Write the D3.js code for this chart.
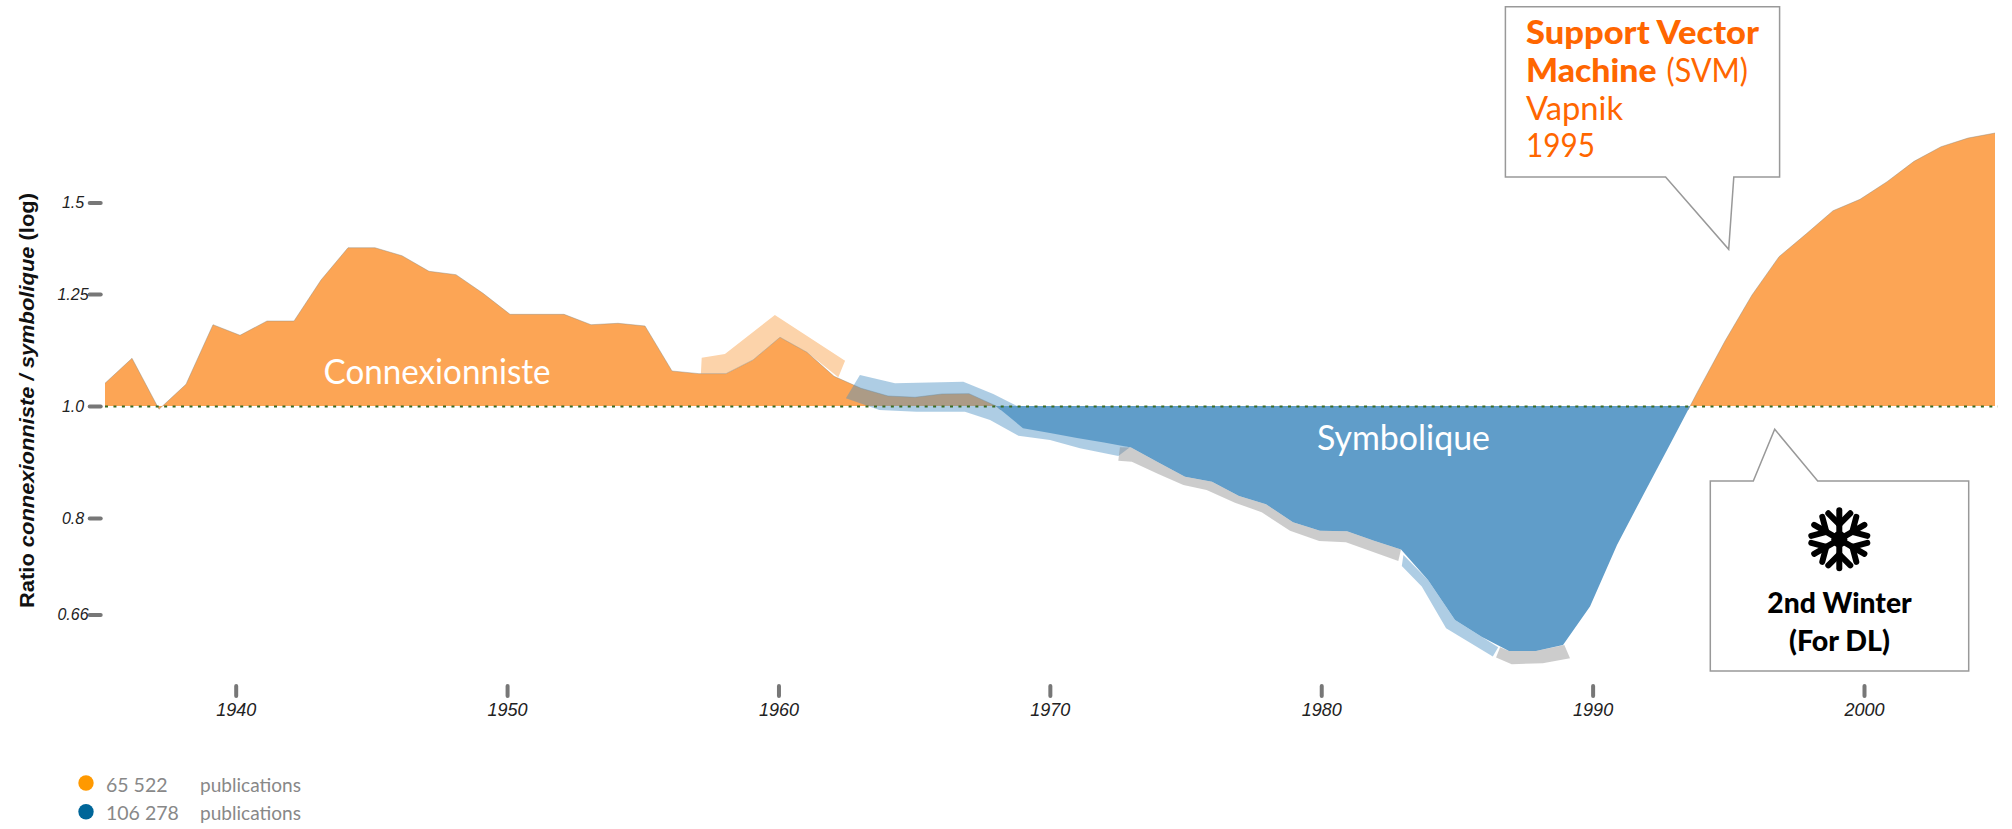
<!DOCTYPE html>
<html>
  <head>
    <title>Ratio connexionniste / symbolique</title>
    <meta charset="utf-8" />
    <script src="https://cdnjs.cloudflare.com/ajax/libs/d3/7.6.1/d3.min.js"></script>
    <style>
      body { margin: 0; background: #fff; }
      svg { display: block; }
      .axis path { display: none; }
      .axis line { stroke: #777; stroke-width: 4px; stroke-linecap: round; }
      .axis text { font-family: "Liberation Sans", sans-serif; font-style: italic; fill: #222; }
      .label { font-family: Lato, "Noto Sans", sans-serif; }
      .callout { fill: #fff; stroke: #999; stroke-width: 1.5px; }
    </style>
  </head>
  <body>
    <svg width="2012" height="829"></svg>
  </body>

  <script>
    // ratio per year, 1935..2005
    const years = d3.range(1935, 2006);
    const ratio = [
      1.0463, 1.0997, 0.9935, 1.0442, 1.1758, 1.1512, 1.1845, 1.1845, 1.2853, 1.3707,
      1.3707, 1.349, 1.3078, 1.299, 1.2517, 1.2004, 1.2004, 1.2004, 1.1758, 1.1791,
      1.1728, 1.0722, 1.0665, 1.0665, 1.096, 1.1467, 1.1129, 1.0609, 1.0359, 1.0201,
      1.0175, 1.0242, 1.0248, 1.0, 0.9566, 0.9476, 0.9382, 0.9299, 0.9207, 0.8939,
      0.8686, 0.86, 0.8359, 0.8222, 0.7932, 0.78, 0.7791, 0.7646, 0.7514, 0.7071,
      0.6529, 0.6312, 0.6138, 0.6138, 0.6212, 0.6705, 0.7581, 0.84, 0.9297, 1.0303,
      1.1382, 1.2475, 1.3464, 1.4086, 1.4755, 1.5095, 1.5633, 1.6282, 1.6762, 1.7055,
      1.7226,
    ];

    // highlight bands, outlines as year / ratio
    const orangeBandYears = [1957.1, 1957.96, 1959.81, 1962.41, 1962.16, 1961, 1960, 1959, 1958, 1957.07];
    const orangeBandRatio = [1.101, 1.1091, 1.1987, 1.0944, 1.0588, 1.1129, 1.1467, 1.096, 1.0665, 1.0665];

    const blueBandYears = [1962.96, 1964.26, 1966.79, 1967.9, 1968.83, 1970, 1972.96, 1972.53, 1971.11, 1970, 1968.83, 1967.78, 1966.85, 1965.06, 1963.68, 1962.44];
    const blueBandRatio = [1.0637, 1.0463, 1.0496, 1.0242, 0.9986, 0.9629, 0.921, 0.9052, 0.9192, 0.9345, 0.9426, 0.9725, 0.9887, 0.9887, 0.9921, 1.0155];

    const grayBandYears = [1972.59, 1973, 1974, 1975, 1976, 1977, 1978, 1979, 1980, 1981, 1982, 1983, 1982.9, 1980.96, 1979.97, 1978.89, 1977.84, 1976.85, 1975.8, 1974.94, 1974.01, 1973.03, 1972.53];
    const grayBandRatio = [0.921, 0.9207, 0.8939, 0.8686, 0.86, 0.8359, 0.8222, 0.7932, 0.78, 0.7791, 0.7646, 0.7514, 0.7344, 0.7622, 0.7642, 0.78, 0.8092, 0.8248, 0.8459, 0.8544, 0.8733, 0.895, 0.8968];

    const blueBand2Years = [1983.09, 1984, 1985, 1986, 1986.6, 1986.4, 1984.67, 1983.77, 1983.03];
    const blueBand2Ratio = [0.7432, 0.7071, 0.6529, 0.6312, 0.6184, 0.6069, 0.6422, 0.6977, 0.7271];

    const grayBand2Years = [1986.67, 1987, 1988, 1989.05, 1989.26, 1988.25, 1987.1, 1986.52];
    const grayBand2Ratio = [0.6184, 0.6138, 0.6138, 0.6212, 0.6049, 0.599, 0.5978, 0.6057];

    const xTicks = [1940, 1950, 1960, 1970, 1980, 1990, 2000];
    const yTicks = [1.5, 1.25, 1.0, 0.8, 0.66];
    const yTickLabels = ["1.5", "1.25", "1.0", "0.8", "0.66"];

    const legendCounts = ["65 522", "106 278"];
    const legendColors = ["#ff9900", "#006699"];

    let svg = d3.select("svg");

    let x = d3.scaleLinear().domain([1935, 2005]).range([105, 1995]),
      xAxisScale = d3.scaleLinear().domain([1940, 2000]).range([235.7, 1864]),
      y = d3.scaleLog().domain([0.66, 1.5]).range([614.5, 202.5]);

    const series = years.map((d, i) => ({ year: d, value: ratio[i] }));
    const outline = (ys, vs) => ys.map((d, i) => ({ year: d, value: vs[i] }));

    const area = d3.area().x((d) => x(d.year)).y0(y(1)).y1((d) => y(d.value));
    const line = d3.line().x((d) => x(d.year)).y((d) => y(d.value));
    const polygon = d3.line().x((d) => x(d.year)).y((d) => y(d.value)).curve(d3.curveLinearClosed);

    const defs = svg.append("defs");
    defs.append("clipPath").attr("id", "above").append("rect")
      .attr("x", 0).attr("y", 0).attr("width", 2012).attr("height", y(0.992));
    defs.append("clipPath").attr("id", "below").append("rect")
      .attr("x", 0).attr("y", y(1)).attr("width", 2012).attr("height", 829 - y(1));

    // pale orange band sits under the area
    svg.append("path")
      .attr("d", polygon(outline(orangeBandYears, orangeBandRatio)))
      .attr("fill", "#fcd3aa");

    svg.append("path")
      .attr("d", area(series))
      .attr("fill", "#fca555")
      .attr("clip-path", "url(#above)");

    svg.append("path")
      .attr("d", line(series))
      .attr("fill", "none")
      .attr("stroke", "#8a8a80")
      .attr("stroke-opacity", 0.55)
      .attr("stroke-width", 0.8)
      .attr("clip-path", "url(#above)");

    svg.selectAll(".band-blue")
      .data([outline(blueBandYears, blueBandRatio), outline(blueBand2Years, blueBand2Ratio)])
      .enter()
      .append("path")
      .attr("class", "band-blue")
      .attr("d", polygon)
      .attr("fill", "#4b90c3")
      .attr("fill-opacity", 0.45);

    svg.append("path")
      .attr("d", area(series.filter((d) => d.year > 1960)))
      .attr("fill", "#609dc9")
      .attr("clip-path", "url(#below)");

    svg.selectAll(".band-gray")
      .data([outline(grayBandYears, grayBandRatio), outline(grayBand2Years, grayBand2Ratio)])
      .enter()
      .append("path")
      .attr("class", "band-gray")
      .attr("d", polygon)
      .attr("fill", "#888")
      .attr("fill-opacity", 0.43);

    // dotted line at ratio 1
    svg.append("line")
      .attr("x1", 105).attr("x2", 1998)
      .attr("y1", y(1) + 0.5).attr("y2", y(1) + 0.5)
      .attr("stroke", "#3a6b22")
      .attr("stroke-width", 2)
      .attr("stroke-dasharray", "3 5.45");

    // axes
    let gy = svg.append("g")
      .attr("class", "axis")
      .attr("transform", "translate(100.7,0)")
      .call(d3.axisLeft(y).tickValues(yTicks).tickSize(11)
        .tickFormat((d, i) => yTickLabels[i]));
    gy.selectAll("text")
      .attr("x", -27.7)
      .attr("text-anchor", "middle")
      .style("font-size", "16px");

    let gx = svg.append("g")
      .attr("class", "axis")
      .attr("transform", "translate(0,686)")
      .call(d3.axisBottom(xAxisScale).tickValues(xTicks).tickSize(10).tickFormat(d3.format("d")));
    gx.selectAll("text")
      .attr("y", 17)
      .style("font-size", "18px");

    let yTitle = svg.append("text")
      .attr("transform", "translate(33.5,608) rotate(-90)")
      .attr("font-family", "Liberation Sans, sans-serif")
      .attr("font-weight", "bold")
      .attr("font-size", 21)
      .attr("textLength", 415)
      .attr("lengthAdjust", "spacingAndGlyphs")
      .attr("fill", "#111");
    yTitle.append("tspan").text("Ratio ");
    yTitle.append("tspan").attr("font-style", "italic").text("connexionniste / symbolique");
    yTitle.append("tspan").text(" (log)");

    // helper for the labels, the widths come from the picture
    function label(txt, px, py, size, color, weight, width) {
      return svg.append("text")
        .attr("class", "label")
        .attr("x", px).attr("y", py)
        .attr("font-size", size)
        .attr("font-weight", weight || 400)
        .attr("fill", color)
        .attr("textLength", width)
        .attr("lengthAdjust", "spacingAndGlyphs")
        .text(txt);
    }

    label("Connexionniste", 323.6, 384.3, 34, "#fff", 400, 227);
    label("Symbolique", 1317, 450, 34, "#fff", 400, 173);

    // callouts
    const calloutLine = d3.line().curve(d3.curveLinearClosed);
    svg.append("path")
      .attr("class", "callout")
      .attr("d", calloutLine([[1505.4, 6.7], [1779.6, 6.7], [1779.6, 177], [1733.8, 177], [1728.7, 249.3], [1665.6, 177], [1505.4, 177]]));
    svg.append("path")
      .attr("class", "callout")
      .attr("d", calloutLine([[1710.3, 481], [1753.3, 481], [1774.7, 429.3], [1817.7, 481], [1968.7, 481], [1968.7, 671], [1710.3, 671]]));

    label("Support Vector", 1526, 44.3, 32, "#ff6600", 900, 233);
    label("Machine", 1526, 82.3, 32, "#ff6600", 900, 130.5);
    label("(SVM)", 1666.6, 82.3, 32, "#ff6600", 400, 81.4);
    label("Vapnik", 1526, 120, 32, "#ff6600", 400, 97);
    label("1995", 1526, 157.3, 32, "#ff6600", 400, 69);

    label("2nd Winter", 1767.3, 612.7, 28, "#000", 900, 144.4);
    label("(For DL)", 1789, 650.7, 28, "#000", 900, 101);

    // snowflake
    let flake = svg.append("g").attr("transform", "translate(1839.3,539.3)");
    d3.range(6).forEach((k) => {
      let arm = flake.append("g")
        .attr("transform", `rotate(${k * 60})`)
        .attr("stroke", "#000")
        .attr("stroke-width", 6)
        .attr("stroke-linecap", "round");
      arm.append("line").attr("x1", 0).attr("y1", 0).attr("x2", 0).attr("y2", -29);
      arm.append("line").attr("x1", 0).attr("y1", -15).attr("x2", -11).attr("y2", -26);
      arm.append("line").attr("x1", 0).attr("y1", -15).attr("x2", 11).attr("y2", -26);
    });
    flake.append("circle").attr("r", 8).attr("fill", "#000");

    // legend
    let legend = svg.selectAll(".legend")
      .data(legendCounts)
      .enter()
      .append("g")
      .attr("class", "legend")
      .attr("transform", (d, i) => `translate(0,${783 + i * 28.7})`);
    legend.append("circle")
      .attr("cx", 86).attr("cy", 0).attr("r", 7.7)
      .attr("fill", (d, i) => legendColors[i]);
    legend.append("text")
      .attr("class", "label")
      .attr("x", 106).attr("y", 8.5)
      .attr("font-size", 19.5)
      .attr("fill", "#888")
      .text((d) => d);
    legend.append("text")
      .attr("class", "label")
      .attr("x", 200).attr("y", 8.5)
      .attr("font-size", 19.5)
      .attr("fill", "#888")
      .attr("textLength", 101)
      .attr("lengthAdjust", "spacingAndGlyphs")
      .text("publications");
  </script>
</html>
